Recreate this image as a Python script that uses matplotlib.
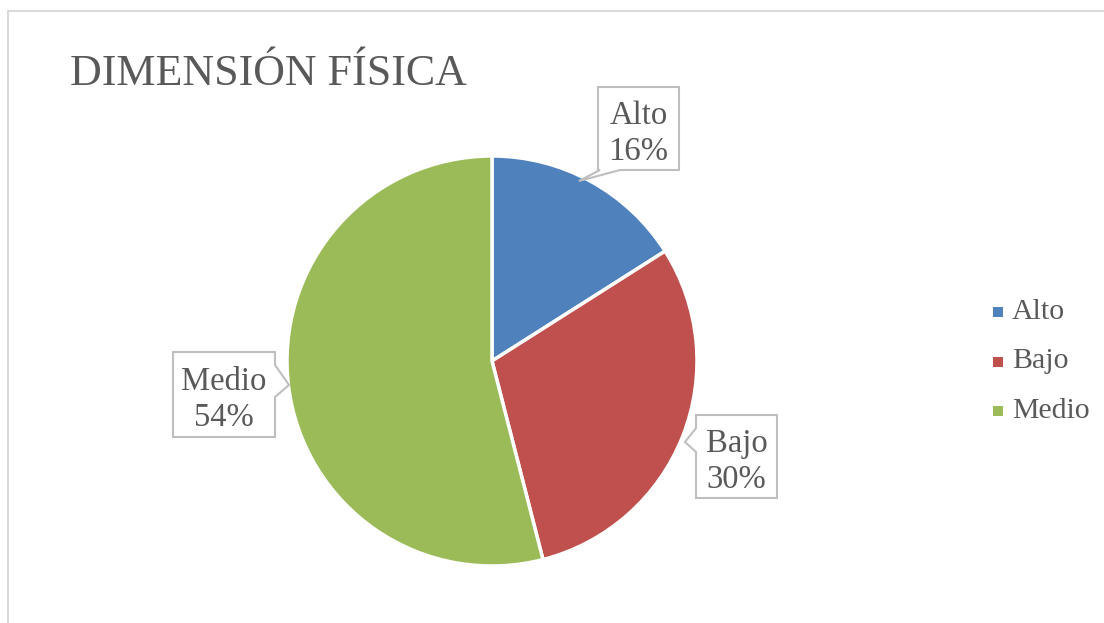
import matplotlib
matplotlib.use("Agg")
import matplotlib.pyplot as plt
from matplotlib.patches import Polygon, Rectangle

categories = ["Alto", "Bajo", "Medio"]
values = [16, 30, 54]
colors = ["#4F81BD", "#C0504D", "#9BBB59"]
title = "DIMENSIÓN FÍSICA"

W, H = 1104, 623
fig = plt.figure(figsize=(W / 100, H / 100), dpi=100)
ax = fig.add_axes([0, 0, 1, 1])

FONT = "Liberation Serif"
TXT = "#595959"

ax.pie(values, colors=colors, startangle=-90, counterclock=True,
       center=(492, 361), radius=205,
       wedgeprops=dict(edgecolor="white", linewidth=2.5), frame=True)
ax.set_xlim(0, W)
ax.set_ylim(H, 0)
ax.set_aspect("equal")
ax.axis("off")

# chart border
ax.plot([7.5, 7.5, W], [H, 11, 11], color="#D9D9D9", lw=1.5, solid_capstyle="butt")

ax.text(70, 74, title, fontsize=31.7, family=FONT, color=TXT, va="center", ha="left")

# callout boxes: (box x0, y0, x1, y1, pointer polygon)
callouts = [
    ((598, 87, 679, 170), "bottom", (600, 620, (579, 181))),
    ((696, 415, 777, 498), "left", (428, 452, (685, 442))),
    ((173, 352, 275, 437), "right", (365, 397, (289, 385))),
]
for (box, side, ptr), cat, val in zip(callouts, categories, values):
    x0, y0, x1, y1 = box
    a, b, tip = ptr
    if side == "bottom":
        pts = [(x0, y0), (x1, y0), (x1, y1), (b, y1), tip, (a, y1), (x0, y1)]
    elif side == "left":
        pts = [(x0, y0), (x1, y0), (x1, y1), (x0, y1), (x0, b), tip, (x0, a)]
    else:
        pts = [(x0, y0), (x1, y0), (x1, a), tip, (x1, b), (x1, y1), (x0, y1)]
    ax.add_patch(Polygon(pts, closed=True, facecolor="white", edgecolor="#BFBFBF", lw=1.5, zorder=5))
    ax.text((x0 + x1) / 2, (y0 + y1) / 2 + 5, f"{cat}\n{val}%", fontsize=23.5, family=FONT,
            color=TXT, ha="center", va="center", linespacing=1.25, zorder=6)

# legend
for i, (cat, col) in enumerate(zip(categories, colors)):
    yc = 312 + i * 49.5
    ax.add_patch(Rectangle((993, yc - 5), 10, 10, facecolor=col, edgecolor="none"))
    ax.text(1012, yc, cat, fontsize=21.5, family=FONT, color=TXT, va="center", ha="left")

fig.savefig("out.png", dpi=100)
